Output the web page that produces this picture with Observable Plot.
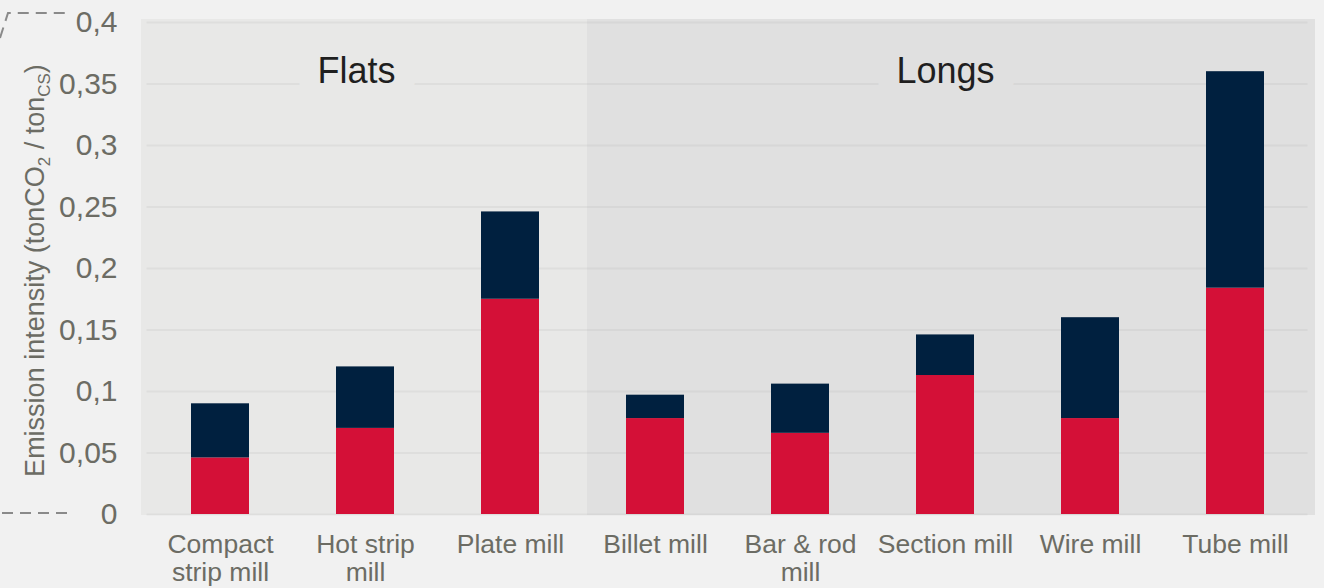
<!DOCTYPE html>
<html><head><meta charset="utf-8">
<script src="https://cdn.jsdelivr.net/npm/d3@7"></script>
<script src="https://cdn.jsdelivr.net/npm/@observablehq/plot@0.6"></script>
<style>
html,body{margin:0;padding:0;background:#f1f1f1;}
#wrap{position:relative;width:1324px;height:588px;overflow:hidden;}
#deco{position:absolute;left:0;top:0;pointer-events:none;}
</style></head><body><div id="wrap"></div>
<script>
// ---- data ----
const categories = ["Compact strip mill","Hot strip mill","Plate mill","Billet mill","Bar & rod mill","Section mill","Wire mill","Tube mill"];
const tickLabels = ["Compact\nstrip mill","Hot strip\nmill","Plate mill","Billet mill","Bar & rod\nmill","Section mill","Wire mill","Tube mill"];
const categoryGroups = ["Flats","Flats","Flats","Longs","Longs","Longs","Longs","Longs"];
const groups = ["Flats","Longs"];
const groupLabelAt = ["Hot strip mill","Section mill"];
const seriesNames = ["Lower segment","Upper segment"];
const lowerValues = [0.046, 0.070, 0.175, 0.078, 0.066, 0.113, 0.078, 0.184];
const upperValues = [0.044, 0.050, 0.071, 0.019, 0.040, 0.033, 0.082, 0.176];
const yTicks = [0, 0.05, 0.1, 0.15, 0.2, 0.25, 0.3, 0.35, 0.4];
const yLabel = "Emission intensity (tonCO2 / tonCS)";

// ---- styles ----
const seriesColors = ["#d41037","#00203f"];
const groupColors = {Flats:"#e8e8e7", Longs:"#e0e0e0"};
const textGray = "#6c6c64";

const rows = [];
seriesNames.forEach((s, si) => {
  const vals = si === 0 ? lowerValues : upperValues;
  categories.forEach((c, i) => rows.push({category: c, series: s, value: vals[i]}));
});
const flatsCats = categories.filter((c, i) => categoryGroups[i] === "Flats");
const longsCats = categories.filter((c, i) => categoryGroups[i] === "Longs");
const groupLabels = groups.map((g, i) => ({group: g, at: groupLabelAt[i]}));

const inset = -44.5;
const bgOpts = (fill, extra = {}) => ({x: d => d, y1: 0, y2: 0.4, fill, insetLeft: inset, insetRight: inset, insetTop: -3, insetBottom: -1, shapeRendering: "crispEdges", ...extra});

const chart = Plot.plot({
  width: 1324,
  height: 588,
  marginLeft: 146.5,
  marginRight: 16.5,
  marginTop: 22,
  marginBottom: 74,
  style: {background: "transparent", color: textGray, fontFamily: "'Liberation Sans', Arial, sans-serif"},
  x: {domain: categories, paddingInner: 0.6, paddingOuter: 0.3, axis: null},
  y: {domain: [0, 0.4], axis: null},
  color: {domain: seriesNames, range: seriesColors},
  marks: [
    Plot.barY(longsCats, bgOpts(groupColors.Longs)),
    Plot.barY([longsCats[longsCats.length - 1]], bgOpts(groupColors.Longs, {insetRight: -50.5})),
    Plot.barY(flatsCats, bgOpts(groupColors.Flats)),
    Plot.barY([flatsCats[0]], bgOpts(groupColors.Flats, {insetLeft: -50.5})),
    Plot.barY([flatsCats[flatsCats.length - 1]], bgOpts(groupColors.Flats, {insetRight: -47.5})),
    Plot.ruleY(yTicks, {stroke: "#000", strokeOpacity: 0.04, strokeWidth: 2}),
    Plot.barY(rows, {x: "category", y: "value", fill: "series"}),
    Plot.text(groupLabels.filter(d => d.group === "Flats"), {x: "at", y: 0.35, text: "group", dx: -9, dy: -1, lineAnchor: "bottom", fontSize: 36, fill: "#1f1f1f", stroke: groupColors.Flats, strokeWidth: 42, strokeLinejoin: "round"}),
    Plot.text(groupLabels.filter(d => d.group === "Longs"), {x: "at", y: 0.35, text: "group", dy: -1, lineAnchor: "bottom", fontSize: 36, fill: "#1f1f1f", stroke: groupColors.Longs, strokeWidth: 42, strokeLinejoin: "round"}),
    Plot.axisY({ticks: yTicks, tickSize: 0, tickPadding: 29.5, fontSize: 30, tickFormat: d => String(d).replace(".", ","), label: null}),
    Plot.axisX({tickSize: 0, tickPadding: 19, fontSize: 26.5, lineHeight: 1.05, tickFormat: d => tickLabels[categories.indexOf(d)], label: null}),
    Plot.text([yLabel], {frameAnchor: "left", dx: -111.5, dy: 2, rotate: -90, fontSize: 27, fill: textGray, textAnchor: "middle", lineAnchor: "middle"})
  ]
});
document.getElementById("wrap").appendChild(chart);

// subscripts in the y label
chart.querySelectorAll("text").forEach(t => {
  if (t.textContent === yLabel) {
    const ns = "http://www.w3.org/2000/svg";
    const parts = [["Emission intensity (tonCO", 0, null], ["2", 6, 17], [" / ton", -6, null], ["CS", 6, 17], [")", -6, null]];
    t.textContent = "";
    parts.forEach(([s, dy, fs]) => {
      const sp = document.createElementNS(ns, "tspan");
      sp.textContent = s;
      if (dy) sp.setAttribute("dy", dy);
      if (fs) sp.setAttribute("font-size", fs);
      t.appendChild(sp);
    });
  }
});

// decorative dashed leader lines at the left edge
const deco = document.createElementNS("http://www.w3.org/2000/svg", "svg");
deco.setAttribute("id", "deco");
deco.setAttribute("width", 80);
deco.setAttribute("height", 588);
deco.innerHTML = '<g stroke="#8a8a8a" stroke-width="2" fill="none" stroke-dasharray="11 7">' +
  '<path d="M0,38 L8,13 L67,13"/>' +
  '<path d="M2,513 L67,513"/></g>';
document.getElementById("wrap").appendChild(deco);
</script></body></html>
